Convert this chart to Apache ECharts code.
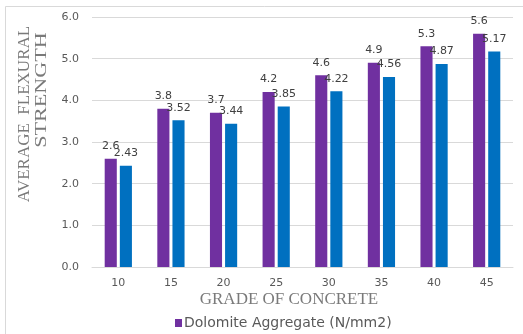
<!DOCTYPE html>
<html>
<head>
<meta charset="utf-8">
<script src="https://cdn.jsdelivr.net/npm/echarts@6/dist/echarts.min.js"></script>
<style>
  html, body { margin: 0; padding: 0; background: #ffffff; }
  #chart { width: 523px; height: 334px; }
</style>
</head>
<body>
<div id="chart"></div>
<script>
// Concrete grades along the x axis
var grades = ['10', '15', '20', '25', '30', '35', '40', '45'];
// Average flexural strength per grade, N/mm2
var dolomiteStrength = [2.6, 3.8, 3.7, 4.2, 4.6, 4.9, 5.3, 5.6];
var graniteStrength = [2.43, 3.52, 3.44, 3.85, 4.22, 4.56, 4.87, 5.17];
// Series names
var dolomiteName = 'Dolomite Aggregate (N/mm2)';
var graniteName = 'Granite Aggregate (N/mm2)';
// Value axis range
var yMin = 0, yMax = 6, yStep = 1;

var tickFont = { fontFamily: 'DejaVu Sans', fontSize: 11, color: '#595959' };
var titleColor = '#7a7a7a';

var chart = echarts.init(document.getElementById('chart'), null, { renderer: 'canvas' });

chart.setOption({
  animation: false,
  backgroundColor: '#ffffff',
  grid: { left: 92, right: 10, top: 17, bottom: 67, containLabel: false },
  legend: {
    data: [dolomiteName],
    left: 175,
    top: 316,
    padding: 0,
    icon: 'rect',
    itemWidth: 7,
    itemHeight: 8,
    itemGap: 4,
    textStyle: { fontFamily: 'DejaVu Sans', fontSize: 14, color: '#595959', padding: [0, 0, 0, -3] }
  },
  xAxis: {
    type: 'category',
    data: grades,
    axisLine: { lineStyle: { color: '#d9d9d9', width: 1 } },
    axisTick: { show: false },
    axisLabel: Object.assign({ margin: 11 }, tickFont),
    splitLine: { show: false }
  },
  yAxis: {
    type: 'value',
    min: yMin,
    max: yMax,
    interval: yStep,
    axisLine: { show: false },
    axisTick: { show: false },
    axisLabel: Object.assign({ margin: 13, formatter: function (v) { return v.toFixed(1); } }, tickFont),
    splitLine: { lineStyle: { color: '#d9d9d9', width: 1 } }
  },
  series: [
    {
      name: dolomiteName,
      type: 'bar',
      data: dolomiteStrength,
      barWidth: '23%',
      barGap: '25%',
      itemStyle: { color: '#7030a0' },
      label: { show: true, position: 'top', distance: 7, fontFamily: 'DejaVu Sans', fontSize: 11, color: '#404040' }
    },
    {
      name: graniteName,
      type: 'bar',
      data: graniteStrength,
      barWidth: '23%',
      itemStyle: { color: '#0070c0' },
      label: { show: true, position: 'top', distance: 7, fontFamily: 'DejaVu Sans', fontSize: 11, color: '#404040' }
    }
  ],
  graphic: [
    {
      type: 'rect',
      left: 3, top: 4,
      shape: { width: 600, height: 400 },
      style: { fill: 'none', stroke: '#d9d9d9', lineWidth: 1 },
      silent: true,
      z: -1
    },
    {
      type: 'text',
      x: 25, y: 114,
      rotation: Math.PI / 2,
      style: { text: 'AVERAGE  FLEXURAL', fontFamily: 'Liberation Serif', fontSize: 17, fill: titleColor, align: 'center', verticalAlign: 'middle' }
    },
    {
      type: 'text',
      x: 42, y: 90,
      rotation: Math.PI / 2,
      scaleX: 1.3,
      style: { text: 'STRENGTH', fontFamily: 'Liberation Serif', fontSize: 17, fill: titleColor, align: 'center', verticalAlign: 'middle' }
    },
    {
      type: 'text',
      x: 289, y: 300,
      style: { text: 'GRADE OF CONCRETE', fontFamily: 'Liberation Serif', fontSize: 17, fill: titleColor, align: 'center', verticalAlign: 'middle' }
    }
  ]
});
</script>
</body>
</html>
